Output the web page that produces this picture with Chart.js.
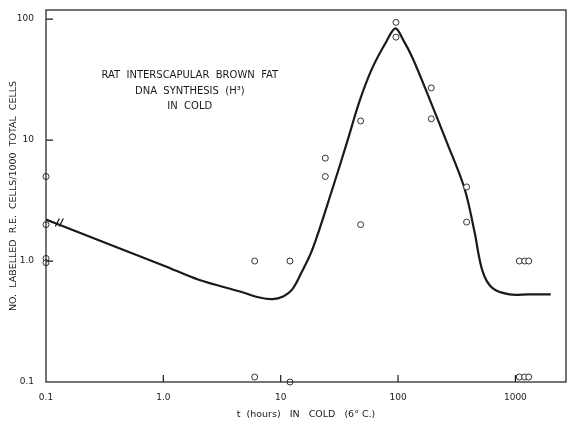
<!DOCTYPE html>
<html>
<head>
<meta charset="utf-8">
<script src="https://cdn.jsdelivr.net/npm/chart.js@4"></script>
<style>
  html, body { margin: 0; padding: 0; background: #fff; }
  canvas { display: block; }
</style>
</head>
<body>
<canvas id="fatChart" width="572" height="424"></canvas>
<script>
// observed points (hours in cold, labelled cells per 1000)
var pointHours = [0.1, 0.1, 0.1, 0.1, 6, 12, 6, 12, 24, 24, 48, 48, 96, 96, 192, 192, 384, 384, 1080, 1200, 1300, 1080, 1200, 1300];
var pointCells = [5, 2, 1.05, 0.97, 1.0, 1.0, 0.11, 0.1, 7.1, 5.0, 14.4, 2.0, 94, 71, 27, 15, 4.1, 2.1, 1.0, 1.0, 1.0, 0.11, 0.11, 0.11];

// fitted curve
var curveHours = [0.1, 0.3, 1, 2, 4.5, 6.6, 8.5, 10.5, 12.5, 15, 18.7, 27.7, 37, 47, 60, 80, 95, 110, 133, 185, 258, 368, 447, 524, 635, 890, 1300, 2000];
var curveCells = [2.2, 1.45, 0.92, 0.7, 0.56, 0.5, 0.485, 0.51, 0.58, 0.8, 1.26, 4.0, 9.8, 21, 39, 66, 84, 68, 47.7, 22, 9.8, 4.0, 1.77, 0.83, 0.6, 0.53, 0.53, 0.53];

var xTicks = [0.1, 1, 10, 100, 1000];
var yTicks = [0.1, 1, 10, 100];
var tickText = function(v) { return v === 0.1 ? '0.1' : (v === 1 ? '1.0' : String(v)); };

var noteLines = ['RAT  INTERSCAPULAR  BROWN  FAT', 'DNA  SYNTHESIS  (H\u00B3)', 'IN  COLD'];

var ink = '#1a1a1a';
var font = '"DejaVu Sans", sans-serif';

// frame, inward ticks, axis break and the note
var decor = {
    id: 'decor',
    afterDraw: function(chart) {
        var c = chart.ctx, a = chart.chartArea;
        var xs = chart.scales.x, ys = chart.scales.y;
        c.save();
        c.strokeStyle = ink;
        c.lineWidth = 1.2;
        c.strokeRect(a.left, a.top, a.right - a.left, a.bottom - a.top);
        c.beginPath();
        xTicks.forEach(function(v) {
            if (v === 0.1) return;
            var px = xs.getPixelForValue(v);
            c.moveTo(px, a.bottom); c.lineTo(px, a.bottom - 7);
        });
        yTicks.forEach(function(v) {
            if (v === 0.1) return;
            var py = ys.getPixelForValue(v);
            c.moveTo(a.left, py); c.lineTo(a.left + 7, py);
        });
        c.stroke();

        // break mark on the curve
        c.lineWidth = 1.3;
        c.beginPath();
        [0.125, 0.135].forEach(function(h) {
            var bx = xs.getPixelForValue(h), by = ys.getPixelForValue(2.08);
            c.moveTo(bx - 2, by + 4); c.lineTo(bx + 2, by - 4);
        });
        c.stroke();

        c.fillStyle = ink;
        c.font = '10px ' + font;
        c.textAlign = 'center';
        c.textBaseline = 'middle';
        var cx = xs.getPixelForValue(1.68);
        noteLines.forEach(function(t, i) {
            c.fillText(t, cx, ys.getPixelForValue(34) + i * 15.5);
        });
        c.restore();
    }
};

window.onload = function() {
    var ctx = document.getElementById('fatChart').getContext('2d');
    var curve = curveHours.map(function(h, i) { return { x: h, y: curveCells[i] }; });
    var pts = pointHours.map(function(h, i) { return { x: h, y: pointCells[i] }; });

    new Chart(ctx, {
        type: 'scatter',
        data: {
            datasets: [{
                type: 'line',
                data: curve,
                borderColor: ink,
                borderWidth: 2.2,
                pointRadius: 0,
                fill: false,
                tension: 0.35,
                order: 2
            }, {
                data: pts,
                pointRadius: 3,
                pointBackgroundColor: '#fff',
                pointBorderColor: '#333',
                pointBorderWidth: 1,
                clip: false,
                order: 1
            }]
        },
        options: {
            responsive: false,
            animation: false,
            layout: { padding: { top: 10, right: 6, left: 4, bottom: 0 } },
            plugins: { legend: { display: false }, tooltip: { enabled: false } },
            scales: {
                x: {
                    type: 'logarithmic',
                    min: 0.1, max: 2700,
                    afterBuildTicks: function(s) { s.ticks = xTicks.map(function(v) { return { value: v }; }); },
                    afterFit: function(s) { s.height = 42; },
                    grid: { display: false },
                    border: { display: false },
                    ticks: { color: ink, font: { family: font, size: 9 }, padding: 2, maxRotation: 0, callback: tickText },
                    title: { display: true, text: 't  (hours)   IN   COLD   (6\u00B0 C.)', color: ink, font: { family: font, size: 9.5 }, padding: { top: 0 } }
                },
                y: {
                    type: 'logarithmic',
                    min: 0.1, max: 119,
                    afterBuildTicks: function(s) { s.ticks = yTicks.map(function(v) { return { value: v }; }); },
                    afterFit: function(s) { s.width = 42; },
                    grid: { display: false },
                    border: { display: false },
                    ticks: { color: ink, font: { family: font, size: 9 }, padding: 4, callback: tickText },
                    title: { display: true, text: 'NO.  LABELLED  R.E.  CELLS/1000  TOTAL  CELLS', color: ink, font: { family: font, size: 9.5 }, padding: { bottom: 4 } }
                }
            }
        },
        plugins: [decor]
    });
};
</script>
</body>
</html>
